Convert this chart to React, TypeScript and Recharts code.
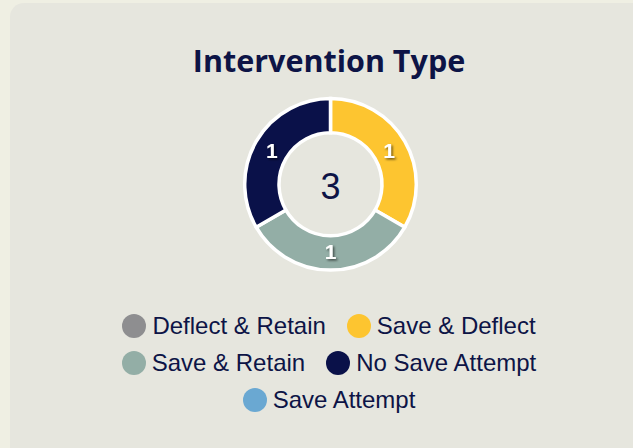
import { Pie, PieChart, Cell } from 'recharts';

const categories = ['Deflect & Retain', 'Save & Deflect', 'Save & Retain', 'No Save Attempt', 'Save Attempt'];
const counts = [0, 1, 1, 1, 0];
const colors = ['#8e8e90', '#fdc530', '#93aea6', '#0a1149', '#6aa8d2'];

const NAVY = '#0d1446';

const rows = categories.map((name, i) => ({ name, value: counts[i], color: colors[i] }));
const slices = rows.filter((r) => r.value > 0);
const total = counts.reduce((a, b) => a + b, 0);

const RAD = Math.PI / 180;

function SliceLabel(props: any) {
  const { cx, cy, midAngle, innerRadius, outerRadius, value } = props;
  const r = (innerRadius + outerRadius) / 2 - 1;
  const x = cx + r * Math.cos(-midAngle * RAD);
  const y = cy + r * Math.sin(-midAngle * RAD);
  return (
    <text x={x} y={y} fill="#fff" fontSize={21} fontWeight={700} fontFamily="Liberation Sans, Arial"
      textAnchor="middle" dominantBaseline="central" filter="url(#lblShadow)">
      {value}
    </text>
  );
}

function LegendBox() {
  return (
    <div style={{ display: 'flex', flexWrap: 'wrap', justifyContent: 'center', columnGap: 21, rowGap: 12, width: 440 }}>
      {rows.map((r) => (
        <div key={r.name} style={{ display: 'flex', alignItems: 'center', gap: 6, height: 25 }}>
          <span style={{ width: 24, height: 24, borderRadius: 12, background: r.color, display: 'inline-block' }} />
          <span style={{ fontFamily: 'Liberation Sans, Arial', fontSize: 24, color: NAVY, lineHeight: '25px' }}>{r.name}</span>
        </div>
      ))}
    </div>
  );
}

export default function App() {
  return (
    <div style={{ position: 'relative', width: 633, height: 448, background: '#efefe3', overflow: 'hidden' }}>
      <style>{'body{margin:0}'}</style>
      <div style={{ position: 'absolute', left: 10, top: 3, width: 660, height: 480, borderRadius: 14, background: '#e6e6de' }} />
      <div style={{ position: 'absolute', left: 0, top: 40, width: 658, textAlign: 'center', fontFamily: 'Open Sans', fontWeight: 700, fontSize: 30.5, color: NAVY, lineHeight: '40px' }}>
        Intervention Type
      </div>
      <div style={{ position: 'absolute', left: 0, top: 0 }}>
        <PieChart width={633} height={448} margin={{ top: 0, right: 0, bottom: 0, left: 0 }}>
          <defs>
            <filter id="lblShadow" x="-50%" y="-50%" width="200%" height="200%">
              <feDropShadow dx={1.5} dy={1.5} stdDeviation={1.2} floodColor="#000" floodOpacity={0.6} />
            </filter>
          </defs>
          <Pie data={slices} dataKey="value" nameKey="name" cx={330.5} cy={184.3} innerRadius={51.5} outerRadius={85.8}
            startAngle={90} endAngle={-270} stroke="#fff" strokeWidth={3.5} label={SliceLabel} labelLine={false}
            isAnimationActive={false}>
            {slices.map((s) => (
              <Cell key={s.name} fill={s.color} />
            ))}
          </Pie>
          <text x={330.5} y={186} textAnchor="middle" dominantBaseline="central" fontSize={36} fill={NAVY} fontFamily="Liberation Sans, Arial">
            {total}
          </text>
        </PieChart>
      </div>
      <div style={{ position: 'absolute', left: 109, top: 313 }}>
        <LegendBox />
      </div>
    </div>
  );
}
